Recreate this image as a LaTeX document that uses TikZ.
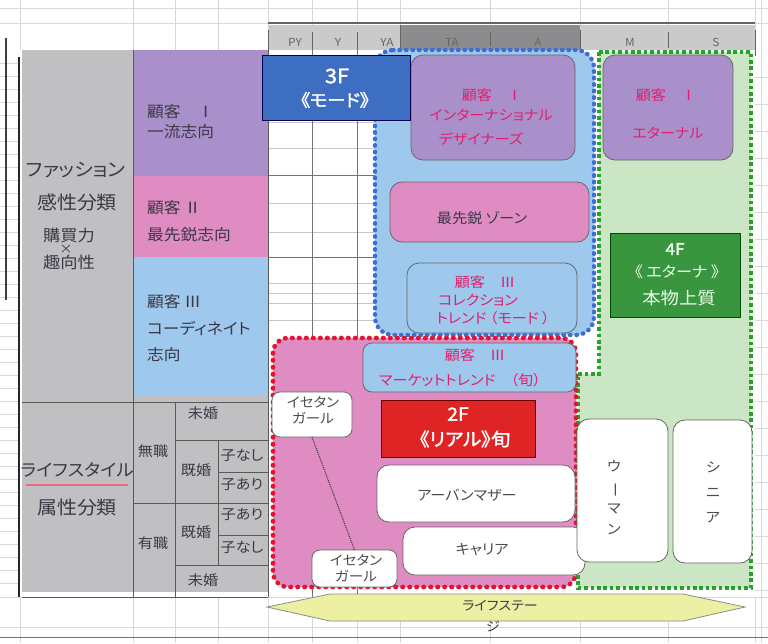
\documentclass[tikz,border=0pt]{standalone}
\usepackage{fontspec}
\setmainfont{Noto Sans CJK JP}[RawFeature=+palt,FakeStretch=1.08]
\newfontfamily\jpb{Noto Sans CJK JP}[RawFeature=+palt,FakeStretch=1.08,FakeBold=2]
\newcommand\jfs[2]{\fontsize{#1}{#2}\selectfont}
\definecolor{lgray}{RGB}{192,192,194}
\definecolor{hgray}{RGB}{202,202,202}
\definecolor{hdark}{RGB}{140,140,142}
\definecolor{purp}{RGB}{170,144,202}
\definecolor{pinkc}{RGB}{222,140,194}
\definecolor{lblue}{RGB}{158,200,236}
\definecolor{lgreen}{RGB}{202,230,196}
\definecolor{bluedk}{RGB}{62,110,194}
\definecolor{greendk}{RGB}{58,150,62}
\definecolor{redbox}{RGB}{222,36,36}
\definecolor{jred}{RGB}{226,30,110}
\definecolor{yel}{RGB}{236,240,162}
\definecolor{dotblue}{RGB}{60,110,214}
\definecolor{dotred}{RGB}{226,20,48}
\definecolor{dotgreen}{RGB}{40,160,44}
\definecolor{txtd}{RGB}{60,56,70}
\definecolor{ulred}{RGB}{226,110,130}
\begin{document}
\begin{tikzpicture}[x=1pt,y=-1pt,
  gridc/.style={draw=gray!30,line width=0.5pt},
  gridd/.style={draw=black!55,line width=0.8pt},
  tline/.style={draw=black!65,line width=0.9pt},
  rbox/.style={draw=black!60,line width=0.8pt,rounded corners=12pt,inner sep=0pt,outer sep=0pt},
  sbox/.style={draw=black!55,line width=0.8pt,inner sep=0pt,outer sep=0pt},
  bluedot/.style={draw=dotblue,line width=4.4pt,dash pattern=on 0.5pt off 6pt,line cap=round},
  reddot/.style={draw=dotred,line width=4.6pt,dash pattern=on 0.5pt off 6.5pt,line cap=round},
  greendot/.style={draw=dotgreen,line width=4pt,dash pattern=on 3.6pt off 2.8pt},
  hdr/.style={inner sep=0pt,text=black!60,font=\jfs{11}{11}},
  ltxt/.style={inner sep=0pt,anchor=west,text=txtd,font=\jfs{15.5}{15.5}},
  stxt/.style={inner sep=0pt,text=txtd,font=\jfs{14}{14}},
  btxt/.style={inner sep=0pt,text=txtd,font=\jfs{18.5}{18.5}},
  mtxt/.style={inner sep=0pt,text=jred,font=\jfs{14}{14}},
  wtxt/.style={inner sep=0pt,align=center,text=black!70,font=\jfs{14}{14}}]
\useasboundingbox (0,0) rectangle (768,643);
\fill[white] (0,0) rectangle (768,643);
% spreadsheet grid in margins
\foreach \y in {8,23} \draw[gridc] (0,\y) -- (768,\y);
\foreach \x in {20,133,175,218,268,312,357,400,490,580,668,755}
  {\draw[gridc] (\x,0) -- (\x,50); \draw[gridc] (\x,597) -- (\x,643);}
\foreach \y in {63,76,...,590} \draw[gridc] (0,\y) -- (20,\y);
\foreach \y in {77,104,...,590} \draw[gridc] (755,\y) -- (768,\y);
\draw[gridc] (761,0) -- (761,643);
\draw[gridc] (0,597) -- (768,597);
\draw[gridc] (0,627) -- (768,627);
\draw[draw=black!55,line width=1pt] (0,637) -- (768,637);
\draw[draw=black!75,line width=1.3pt] (6,38) -- (6,300);
% main area grid
\foreach \y in {122,148,203,232,283,293,303,320} \draw[gridc,draw=gray!45] (268,\y) -- (380,\y);
\draw[gridd] (268,175) -- (380,175);
\draw[gridd] (268,257) -- (380,257);
\draw[gridd] (312,50) -- (312,597);
\draw[gridd] (357,50) -- (357,597);
% header
\fill[hgray] (268,25) rectangle (755,50);
\fill[hdark] (400,25) rectangle (580,50);
\draw[draw=black!60,line width=2pt] (268,23) -- (755,23);
\foreach \x/\a/\b in {268/30/56,312/32/50,357/32/50,400/25/50,490/32/46,580/30/50,668/32/48,755/30/56}
  \draw[draw=black!60,line width=1pt] (\x,\a) -- (\x,\b);
\node[hdr] (hPY) at (295,42) {PY};
\node[hdr] (hY) at (338,42) {Y};
\node[hdr] (hYA) at (387,42) {YA};
\node[hdr] (hTA) at (452,42) {TA};
\node[hdr] (hA) at (538,42) {A};
\node[hdr] (hM) at (630,42) {M};
\node[hdr] (hS) at (716,42) {S};
% left panel
\fill[lgray] (22,50) rectangle (133,592);
\fill[purp] (133,50) rectangle (268,176);
\fill[pinkc] (133,176) rectangle (268,257);
\fill[lblue] (133,257) rectangle (268,395);
\fill[lgray] (133,395) rectangle (268,592);
\draw[draw=black!85,line width=2.2pt] (19,57) -- (19,597);
\draw[tline] (133,50) -- (133,597);
\draw[tline] (268,50) -- (268,597);
\draw[tline] (22,402) -- (268,402);
\draw[tline] (175,402) -- (175,597);
\draw[tline] (175,440) -- (268,440);
\draw[tline] (218,440) -- (218,565);
\draw[tline] (218,472) -- (268,472);
\draw[tline] (133,503) -- (268,503);
\draw[tline] (218,535) -- (268,535);
\draw[tline] (175,565) -- (268,565);
\draw[tline] (22,597) -- (268,597);
\node[btxt] (lf1) at (76,170) {ファッション};
\node[btxt] (lf2) at (77,202) {感性分類};
\node[inner sep=0pt,text=txtd,font=\jfs{16}{16}] (lf3) at (69,235) {購買力};
\node[inner sep=0pt,text=txtd,font=\jfs{12}{12}] (lf4) at (66,249) {×};
\node[inner sep=0pt,text=txtd,font=\jfs{16}{16}] (lf5) at (69,262) {趣向性};
\node[btxt,font=\jfs{17}{17}] (ll1) at (77,470) {ライフスタイル};
\draw[draw=ulred,line width=1.6pt] (26,485) -- (128,485);
\node[btxt] (ll2) at (77,508) {属性分類};
\node[ltxt] (c1a) at (147,112) {顧客　Ⅰ};
\node[ltxt] (c1b) at (147,132) {一流志向};
\node[ltxt] (c2a) at (147,208) {顧客 Ⅱ};
\node[ltxt] (c2b) at (147,235) {最先鋭志向};
\node[ltxt] (c3a) at (147,302) {顧客 Ⅲ};
\node[ltxt] (c3b) at (147,328) {コーディネイト};
\node[ltxt] (c3c) at (147,355) {志向};
\node[stxt] (s1) at (203,413) {未婚};
\node[stxt] (s2) at (153,451) {無職};
\node[stxt] (s3) at (196,470) {既婚};
\node[stxt] (s4) at (242,455) {子なし};
\node[stxt] (s5) at (242,485) {子あり};
\node[stxt] (s6) at (153,543) {有職};
\node[stxt] (s7) at (196,532) {既婚};
\node[stxt] (s8) at (242,515) {子あり};
\node[stxt] (s9) at (242,547) {子なし};
\node[stxt] (s10) at (203,580) {未婚};
% zones
\draw[bluedot,fill=lblue,rounded corners=18pt] (375,50) -- (594,50) -- (594,335) -- (375,335) -- cycle;
\draw[greendot,fill=lgreen] (599,52) -- (751,52) -- (751,588) -- (578,588) -- (578,374) -- (599,374) -- cycle;
\draw[reddot,fill=pinkc,rounded corners=15pt] (273,338) rectangle (576,587);
% boxes
\node[rbox,fill=purp,minimum width=164pt,minimum height=105pt] (bI) at (493,107.5) {};
\node[mtxt] (tI1) at (492,95) {顧客　Ⅰ};
\node[mtxt] (tI2) at (491,115) {インターナショナル};
\node[mtxt] (tI3) at (481,139) {デザイナーズ};
\node[rbox,fill=purp,minimum width=130pt,minimum height=105pt] (bE) at (668,107.5) {};
\node[mtxt] (tE1) at (666,95) {顧客　Ⅰ};
\node[mtxt] (tE2) at (668,133) {エターナル};
\node[rbox,fill=pinkc,minimum width=199pt,minimum height=60pt] (bZ) at (489.5,212) {};
\node[wtxt,text=txtd,font=\jfs{14}{14}] (tZ) at (482,218) {最先鋭 ゾーン};
\node[rbox,fill=lblue,minimum width=170pt,minimum height=70pt] (bC) at (492,298) {};
\node[mtxt] (tC1) at (485,282) {顧客　Ⅲ};
\node[mtxt] (tC2) at (478,300) {コレクション};
\node[mtxt] (tC3) at (493,318) {トレンド （モード ）};
\node[sbox,fill=greendk,draw=green!30!black,minimum width=130pt,minimum height=84pt] (b4) at (675,275) {};
\node[inner sep=0pt,text=green!8!white,font=\jpb\jfs{16}{16}] (t4a) at (675,249) {4F};
\node[inner sep=0pt,text=green!8!white,font=\jfs{15}{15}] (t4b) at (677,272) {《 エターナ 》};
\node[inner sep=0pt,text=green!8!white,font=\jfs{17}{17}] (t4c) at (679,298) {本物上質};
\node[rbox,fill=lblue,rounded corners=9pt,minimum width=213pt,minimum height=49pt] (bM) at (469.5,367.5) {};
\node[mtxt] (tM1) at (475,355) {顧客　Ⅲ};
\node[mtxt] (tM2) at (460,380) {マーケットトレンド　（旬）};
\node[sbox,fill=redbox,draw=red!40!black,minimum width=154pt,minimum height=57pt] (b2) at (458,428.5) {};
\node[inner sep=0pt,text=white,font=\jpb\jfs{18}{18}] (t2a) at (458,414) {2F};
\node[inner sep=0pt,text=white,font=\jpb\jfs{18}{18}] (t2b) at (465,439) {《リアル》旬};
\node[rbox,fill=white,minimum width=198pt,minimum height=57pt] (bU) at (476,493.5) {};
\node[wtxt] (tU) at (467,495) {アーバンマザー};
\node[rbox,fill=white,minimum width=182pt,minimum height=48pt] (bK) at (494,551) {};
\node[wtxt] (tK) at (482,550) {キャリア};
\node[rbox,fill=white,rounded corners=8pt,minimum width=80pt,minimum height=45pt] (bG1) at (312,414.5) {};
\node[wtxt,font=\jfs{13.5}{16}] (tG1) at (313,410) {イセタン\\ガール};
\node[rbox,fill=white,rounded corners=8pt,minimum width=85pt,minimum height=37pt] (bG2) at (354.5,568.5) {};
\node[wtxt,font=\jfs{13.5}{16}] (tG2) at (356,568) {イセタン\\ガール};
\draw[draw=black!80,line width=1pt,dash pattern=on 1pt off 1pt] (bG1.south) -- (bG2.north);
\node[rbox,fill=white,minimum width=91pt,minimum height=143pt] (bW) at (622.5,490.5) {};
\node[wtxt,font=\jfs{14}{21}] (tW) at (614,498) {ウ\\\rotatebox[origin=c]{-90}{ー}\\マ\\ン};
\node[rbox,fill=white,minimum width=79pt,minimum height=143pt] (bS) at (712.5,491.5) {};
\node[wtxt,font=\jfs{14}{25}] (tS) at (713,492) {シ\\ニ\\ア};
\node[sbox,fill=bluedk,draw=blue!30!black,minimum width=148pt,minimum height=65pt] (b3) at (336,87.5) {};
\node[inner sep=0pt,text=white,font=\jpb\jfs{20}{20}] (t3a) at (337,76) {3F};
\node[inner sep=0pt,text=white,font=\jpb\jfs{17}{17}] (t3b) at (335,100) {《モード》};
% life stage arrow
\draw[draw=black!45,line width=0.8pt,fill=yel] (267,607) -- (330,594) -- (683,594) -- (745,607) -- (683,621) -- (330,621) -- cycle;
\node[wtxt,text=txtd,font=\jfs{13}{13}] (tL1) at (500,606) {ライフステー};
\node[wtxt,text=txtd,font=\jfs{13}{13}] (tL2) at (493,627) {ジ};
\end{tikzpicture}
\end{document}
